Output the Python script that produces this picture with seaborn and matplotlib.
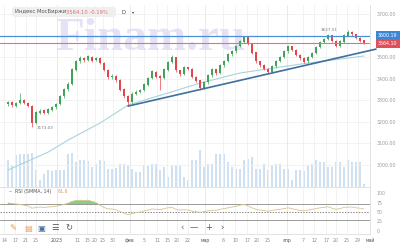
import numpy as np
import matplotlib
matplotlib.use("Agg")
import matplotlib.pyplot as plt
import seaborn as sns
from matplotlib.patches import FancyBboxPatch

# --- data (daily candles, MOEX index) ---
opens = [3280, 3291, 3274, 3286, 3299, 3286, 3270, 3195, 3242, 3251,
         3240, 3255, 3266, 3283, 3319, 3350, 3376, 3440, 3480, 3495,
         3487, 3501, 3485, 3495, 3473, 3440, 3405, 3411, 3392, 3349,
         3317, 3293, 3330, 3337, 3347, 3372, 3402, 3431, 3410, 3403,
         3442, 3477, 3498, 3437, 3422, 3451, 3445, 3408, 3390, 3357,
         3382, 3415, 3443, 3425, 3462, 3482, 3512, 3527, 3552, 3572,
         3593, 3560, 3520, 3480, 3461, 3445, 3432, 3457, 3482, 3500,
         3527, 3548, 3533, 3510, 3495, 3480, 3502, 3520, 3547, 3570,
         3585, 3600, 3575, 3552, 3572, 3600, 3613, 3605, 3588, 3577]
closes = [3290, 3275, 3285, 3300, 3285, 3272, 3192, 3243, 3250, 3241,
          3256, 3266, 3281, 3318, 3349, 3374, 3441, 3479, 3494, 3486,
          3502, 3484, 3496, 3474, 3441, 3406, 3412, 3393, 3348, 3318,
          3291, 3329, 3338, 3346, 3371, 3401, 3432, 3409, 3402, 3441,
          3476, 3499, 3438, 3421, 3452, 3446, 3409, 3391, 3356, 3381,
          3414, 3442, 3424, 3461, 3481, 3511, 3526, 3551, 3571, 3594,
          3561, 3521, 3481, 3462, 3446, 3431, 3456, 3481, 3499, 3526,
          3549, 3534, 3511, 3494, 3479, 3501, 3519, 3546, 3569, 3584,
          3601, 3576, 3551, 3571, 3599, 3614, 3606, 3589, 3576, 3564.10]
highs = [3298, 3296, 3292, 3332, 3304, 3290, 3278, 3250, 3258, 3256,
         3262, 3272, 3288, 3324, 3356, 3384, 3448, 3486, 3503, 3500,
         3510, 3506, 3502, 3500, 3478, 3446, 3420, 3415, 3396, 3355,
         3322, 3336, 3345, 3352, 3378, 3408, 3440, 3436, 3416, 3447,
         3482, 3508, 3500, 3440, 3458, 3456, 3448, 3412, 3392, 3388,
         3420, 3450, 3446, 3467, 3488, 3517, 3533, 3558, 3578, 3600,
         3596, 3562, 3524, 3484, 3466, 3450, 3462, 3487, 3506, 3532,
         3556, 3550, 3536, 3514, 3498, 3507, 3525, 3552, 3575, 3590,
         3608, 3604, 3578, 3577, 3606, 3627.51, 3620, 3608, 3592, 3580]
lows = [3274, 3268, 3270, 3282, 3280, 3266, 3173.03, 3188, 3236, 3234,
        3234, 3250, 3260, 3278, 3312, 3344, 3370, 3434, 3474, 3478,
        3480, 3478, 3480, 3468, 3434, 3398, 3400, 3386, 3340, 3310,
        3273, 3288, 3325, 3332, 3340, 3366, 3396, 3402, 3345, 3398,
        3436, 3472, 3430, 3412, 3416, 3438, 3402, 3384, 3348, 3350,
        3376, 3408, 3418, 3420, 3455, 3476, 3506, 3520, 3545, 3566,
        3555, 3515, 3474, 3455, 3440, 3424, 3426, 3450, 3476, 3494,
        3520, 3528, 3505, 3488, 3472, 3474, 3496, 3514, 3540, 3564,
        3578, 3570, 3545, 3546, 3566, 3596, 3600, 3584, 3570, 3560]
volumes = [80, 65, 95, 100, 100, 98, 102, 50, 20, 40,
           50, 48, 52, 50, 50, 100, 102, 75, 80, 82,
           78, 60, 70, 80, 78, 55, 55, 56, 70, 70,
           65, 55, 45, 45, 65, 64, 70, 70, 50, 60,
           30, 65, 66, 64, 30, 20, 80, 80, 110, 60,
           70, 70, 100, 100, 98, 75, 60, 55, 55, 80,
           85, 90, 55, 55, 70, 50, 65, 70, 70, 55,
           55, 20, 50, 50, 48, 65, 70, 80, 75, 75,
           60, 60, 75, 75, 60, 80, 75, 75, 75, 10]
rsi = [74, 72, 71, 70, 68, 66, 60, 62, 63, 62,
       63, 64, 65, 67, 70, 73, 78, 80, 81, 80,
       81, 78, 75, 68, 62, 58, 58, 56, 51, 47,
       43, 46, 48, 50, 53, 55, 58, 57, 56, 59,
       61, 62, 57, 55, 56, 55, 52, 51, 49, 51,
       53, 55, 54, 57, 59, 61, 63, 65, 68, 70,
       66, 61, 57, 55, 54, 52, 54, 56, 57, 59,
       61, 59, 56, 54, 53, 55, 57, 59, 61, 62,
       64, 60, 57, 59, 62, 63, 63, 61, 60, 58]

# moving average, sampled at a few candles
ma_idx = [0, 10, 15, 23, 30, 40, 48, 58, 73, 83, 89]
ma_val = [2975, 3058, 3114, 3193, 3277, 3333, 3379, 3426, 3467, 3491, 3505]

# support trend line (two anchor candles)
trend_idx = [30, 92]
trend_val = [3272, 3537]

level_blue = 3600.19
level_red = 3564.10
price_ticks = [3000, 3100, 3200, 3300, 3400, 3500, 3600, 3700]

date_pos = [-1, 1.75, 4.5, 7, 12.25, 17.25, 19.75, 21.75, 23.75, 26.25,
            30.5, 34, 37.25, 39.75, 42.25, 45, 49.25, 53.75, 56.75, 59.75,
            62.25, 65, 69.75, 73.75, 76.5, 79.5, 82, 84.75, 87.5, 90.5]
date_labels = ["14", "17", "21", "25", "2023", "11", "15", "20", "25", "30",
               "фев", "5", "11", "15", "20", "22", "мар", "6", "10", "17",
               "20", "25", "апр", "7", "12", "17", "20", "25", "29", "май"]
month_labels = {"2023", "фев", "мар", "апр", "май"}

GREEN = "#43a35a"
RED = "#e0474c"
GRID = "#f0f0f0"
TXT = "#9a9a9a"

sns.set_style("white")
plt.rcParams["font.family"] = ["DejaVu Sans"]

W, H = 400, 245
fig = plt.figure(figsize=(4, 2.45), dpi=100)
fig.patch.set_facecolor("white")

def rect(x0, y0, x1, y1):
    return [x0 / W, 1 - y1 / H, (x1 - x0) / W, (y1 - y0) / H]

x = np.arange(len(closes))
xlim = (-2, 90.5)

# volume (behind)
ax_vol = fig.add_axes(rect(0, 5, 370, 187))
ax_vol.bar(x, volumes, width=0.7, color="#cfe0f0", edgecolor="none")
ax_vol.set_xlim(*xlim)
ax_vol.set_ylim(0, 546)
ax_vol.axis("off")

# price panel
ax = fig.add_axes(rect(0, 5, 370, 187))
ax.patch.set_alpha(0)
ax.set_xlim(*xlim)
ax.set_ylim(2896, 3742)

for p in price_ticks:
    ax.axhline(p, color=GRID, lw=0.6, zorder=0)
for pos, lab in zip(date_pos, date_labels):
    ax.axvline(pos, color="#e6e6e6" if lab in month_labels else GRID, lw=0.6, zorder=0)

ax.text(150 / 370, (187 - 39) / 182, "Finam.ru", transform=ax.transAxes,
        ha="center", va="center", fontsize=34, fontweight="bold",
        family="Liberation Serif", color="#dcd5f2", alpha=0.7, zorder=1)

o = np.array(opens); c = np.array(closes)
colors = np.where(c >= o, GREEN, RED)
ax.vlines(x, lows, highs, colors=colors, lw=0.5, zorder=3)
ax.bar(x, np.abs(c - o) + 1.5, bottom=np.minimum(o, c), width=0.72,
       color=colors, edgecolor="none", zorder=4)

sns.lineplot(x=ma_idx, y=ma_val, ax=ax, color="#a9d3df", lw=0.8, zorder=2)
sns.lineplot(x=trend_idx, y=trend_val, ax=ax, color="#3f6f9e", lw=1.2, zorder=5)
ax.lines[-1].set_clip_on(False)

ax.axhline(level_blue, color="#4a8fd8", lw=0.9, zorder=5)
ax.axhline(level_red, color="#e8707a", lw=0.8, zorder=5)

ax.yaxis.tick_right()
ax.set_yticks(price_ticks)
ax.set_yticklabels([f"{p:.2f}" for p in price_ticks])
ax.tick_params(axis="y", length=0, pad=5, labelsize=3.4, labelcolor=TXT)
ax.set_xticks([])
ax.set_xlabel(""); ax.set_ylabel("")
for s in ["top", "left", "bottom"]:
    ax.spines[s].set_visible(False)
ax.spines["right"].set_color("#dddddd")
ax.spines["right"].set_linewidth(0.6)

tr = ax.get_yaxis_transform()
ax.text(1.022, level_blue, "3600.19", transform=tr, ha="left", va="center",
        fontsize=3.4, color="white", zorder=6,
        bbox=dict(boxstyle="square,pad=0.45", fc="#3d87d6", ec="none"))
ax.text(1.022, level_red, "3564.10", transform=tr, ha="left", va="center",
        fontsize=3.4, color="white", zorder=6,
        bbox=dict(boxstyle="square,pad=0.45", fc="#e0505a", ec="none"))

ax.text(82.5, 3627.51, "3627.51", fontsize=3, color="#777777", ha="right", va="center")
ax.text(7.2, 3170, "3173.03", fontsize=3, color="#777777", ha="left", va="center")

# header
fig.patches.append(FancyBboxPatch((12 / W, 1 - 17 / H), 104 / W, 10 / H,
                                  boxstyle="round,pad=0,rounding_size=0.008",
                                  transform=fig.transFigure, fc="#efefef", ec="none"))
fig.text(15 / W, 1 - 12 / H, "Индекс МосБиржи", fontsize=3.8, color="#555555", va="center")
fig.text(66 / W, 1 - 12 / H, "3564.10 -0.19%", fontsize=3.8, color="#e07070", va="center")
fig.text(121 / W, 1 - 12 / H, "D", fontsize=3.8, color="#444444", va="center")
fig.text(132 / W, 1 - 12 / H, "▾", fontsize=3.2, color="#444444", va="center")

# RSI panel
ax_r = fig.add_axes(rect(0, 187, 370, 234))
ax_r.set_xlim(*xlim)
ax_r.set_ylim(-7.9, 115.8)
rsi_arr = np.array(rsi, dtype=float)
ax_r.fill_between(x, rsi_arr, 70, where=rsi_arr > 70, interpolate=True,
                  color="#86d07f", lw=0, zorder=2)
sns.lineplot(x=x, y=rsi_arr, ax=ax_r, color="#d8c48c", lw=0.6, zorder=3)
ax_r.axhline(70, color="#8a8a8a", lw=0.6)
ax_r.axhline(30, color="#8a8a8a", lw=0.6)
ax_r.axhline(50, color="#555555", lw=0.5, ls=(0, (2, 2)))
for pos, lab in zip(date_pos, date_labels):
    ax_r.axvline(pos, color="#e6e6e6" if lab in month_labels else GRID, lw=0.6, zorder=0)
ax_r.yaxis.tick_right()
ax_r.set_yticks([0, 25, 50, 75, 100])
ax_r.tick_params(axis="y", length=0, pad=5, labelsize=3.4, labelcolor=TXT)
ax_r.set_xticks(date_pos)
ax_r.set_xticklabels(date_labels)
ax_r.tick_params(axis="x", length=0, pad=3, labelsize=3.4, labelcolor="#8c8c8c")
for t, lab in zip(ax_r.get_xticklabels(), date_labels):
    if lab in month_labels:
        t.set_color("#555555")
ax_r.set_xlabel(""); ax_r.set_ylabel("")
ax_r.spines["left"].set_visible(False)
for s in ["top", "bottom", "right"]:
    ax_r.spines[s].set_color("#dddddd")
    ax_r.spines[s].set_linewidth(0.6)
ax_r.text(0.025, 0.9, "‒  RSI (SMMA, 14)", transform=ax_r.transAxes, fontsize=3.4,
          color="#555555", va="center")
ax_r.text(0.155, 0.9, "61.6", transform=ax_r.transAxes, fontsize=3.4,
          color="#e09a50", va="center")

# toolbar
tools = [(13, "✎", "#e39a3a"), (28, "▤", "#f0a040"), (41, "▣", "#4a6fa5"),
         (55, "☰", "#555555"), (69, "↻", "#555555"),
         (182, "‹", "#666666"), (194, "—", "#666666"), (209, "+", "#555555"), (222, "›", "#555555")]
for tx, sym, col in tools:
    fig.text(tx / W, 1 - 228 / H, sym, fontsize=6, color=col, ha="center", va="center")

fig.savefig("out.png", dpi=100, facecolor="white")
